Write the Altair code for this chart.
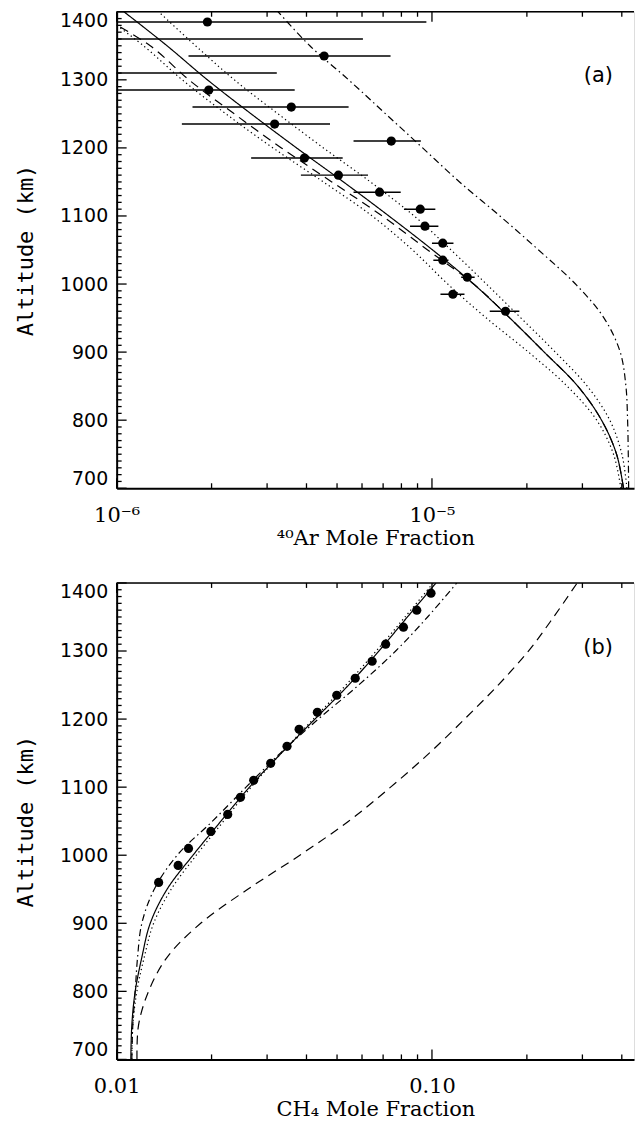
import altair as alt
import pandas as pd
import math

W, H = 519, 478
MAJOR_LEN, MINOR_LEN = 10, 5   # inward tick lengths in pixels

# ---------------- data ----------------
DATA_ALT = [1385, 1360, 1335, 1310, 1285, 1260, 1235, 1210, 1185, 1160,
            1135, 1110, 1085, 1060, 1035, 1010, 985, 960]

AR_VAL = [1.94e-6, None, 4.55e-6, None, 1.96e-6, 3.58e-6, 3.17e-6, 7.43e-6, 3.94e-6, 5.05e-6,
          6.82e-6, 9.18e-6, 9.50e-6, 1.082e-5, 1.082e-5, 1.294e-5, 1.165e-5, 1.711e-5]
AR_LO = [1e-7, 1e-7, 1.69e-6, 1e-7, 1e-7, 1.74e-6, 1.61e-6, 5.64e-6, 2.67e-6, 3.84e-6,
         5.64e-6, 8.15e-6, 8.52e-6, 1.0e-5, 1.01e-5, 1.238e-5, 1.064e-5, 1.525e-5]
AR_HI = [9.6e-6, 6.04e-6, 7.39e-6, 3.22e-6, 3.67e-6, 5.44e-6, 4.75e-6, 9.22e-6, 5.21e-6, 6.27e-6,
         7.96e-6, 1.025e-5, 1.048e-5, 1.17e-5, 1.128e-5, 1.366e-5, 1.268e-5, 1.893e-5]

CH4_VAL = [0.0993, 0.0895, 0.0812, 0.0713, 0.0646, 0.0571, 0.0499, 0.0433, 0.0379, 0.0347,
           0.0308, 0.0272, 0.0247, 0.0225, 0.0199, 0.0169, 0.01567, 0.01359]

CURVE_ALT = [700, 750, 800, 850, 900, 950, 1000, 1050, 1100, 1150, 1200, 1250, 1300, 1350, 1400]

AR_SOLID = [4.05e-5, 3.85e-5, 3.45e-5, 2.90e-5, 2.27e-5, 1.767e-5, 1.356e-5, 1.005e-5, 7.30e-6,
            5.24e-6, 3.72e-6, 2.67e-6, 1.94e-6, 1.445e-6, 1.055e-6]
AR_DASHED = [4.05e-5, 3.85e-5, 3.45e-5, 2.90e-5, 2.27e-5, 1.767e-5, 1.356e-5, 9.69e-6, 6.955e-6,
             4.812e-6, 3.330e-6, 2.361e-6, 1.695e-6, 1.278e-6, 8.42e-7]
AR_DOT_HI = [4.153e-5, 4.003e-5, 3.664e-5, 3.108e-5, 2.462e-5, 1.916e-5, 1.488e-5, 1.150e-5, 8.78e-6,
             6.38e-6, 4.525e-6, 3.25e-6, 2.361e-6, 1.780e-6, 1.359e-6]
AR_DOT_LO = [3.973e-5, 3.765e-5, 3.330e-5, 2.683e-5, 2.023e-5, 1.488e-5, 1.122e-5, 8.68e-6, 6.46e-6,
             4.525e-6, 3.131e-6, 2.221e-6, 1.614e-6, 1.217e-6, 8.74e-7]
AR_DASHDOT = [4.205e-5, 4.194e-5, 4.173e-5, 4.122e-5, 3.954e-5, 3.514e-5, 2.852e-5, 2.178e-5, 1.642e-5,
              1.223e-5, 9.34e-6, 7.13e-6, 5.44e-6, 4.10e-6, 3.25e-6]

CH4_SOLID = [0.01109, 0.01117, 0.01145, 0.01202, 0.01278, 0.01445, 0.01746, 0.02141, 0.02637,
             0.03330, 0.04256, 0.05440, 0.06785, 0.08359, 0.1030]
CH4_DOTTED = [0.01117, 0.01125, 0.01159, 0.01223, 0.01310, 0.01489, 0.01789, 0.02183, 0.02670,
              0.03330, 0.04204, 0.05334, 0.06653, 0.08217, 0.1010]
CH4_DASHDOT = [0.01117, 0.01125, 0.01145, 0.01165, 0.01202, 0.01316, 0.01556, 0.02013, 0.02573,
               0.03305, 0.04362, 0.05855, 0.07671, 0.09686, 0.1199]
CH4_DASHED = [0.0116, 0.01173, 0.01262, 0.01445, 0.01847, 0.02605, 0.03811, 0.05440, 0.07393,
              0.09806, 0.1269, 0.1622, 0.2023, 0.2432, 0.2888]

AR_DOMAIN = [1e-6, 4.373e-5]
CH4_DOMAIN = [0.01, 0.4373]
Y_DOMAIN = [700, 1400]

AR_MAJOR = [1e-6, 1e-5]
AR_MINOR = [2e-6, 3e-6, 4e-6, 5e-6, 6e-6, 7e-6, 8e-6, 9e-6, 2e-5, 3e-5, 4e-5]
CH4_MAJOR = [0.01, 0.1]
CH4_MINOR = [0.02, 0.03, 0.04, 0.05, 0.06, 0.07, 0.08, 0.09, 0.2, 0.3, 0.4]
Y_MAJOR = [700, 800, 900, 1000, 1100, 1200, 1300, 1400]
Y_MINOR = [v for v in range(700, 1401, 10) if v % 100 != 0]

STYLES = ["solid", "dashed", "dotted_hi", "dotted_lo", "dashdot"]
DASHES = [[1, 0], [9, 6], [1.3, 3], [1.3, 3], [7, 3.5, 1.5, 3.5]]


def curves_df(curves):
    rows = []
    for style, vals in curves:
        for a, v in zip(CURVE_ALT, vals):
            rows.append({"alt": a, "val": v, "style": style})
    return pd.DataFrame(rows)


def panel(lines, pts, bars, xdomain, xmajor, xminor, label_expr, xtitle, tag, tag_x):
    xs = alt.Scale(type="log", domain=xdomain, nice=False)
    ys = alt.Scale(domain=Y_DOMAIN, nice=False, zero=False)

    x_axis = alt.Axis(orient="bottom", values=xmajor, labelExpr=label_expr, title=xtitle,
                      ticks=False, tickSize=0, domain=True, domainColor="black", domainWidth=2,
                      grid=False, labelFont="DejaVu Serif", labelFontSize=21, labelColor="black",
                      labelPadding=16, labelFlush=False, labelOverlap=False,
                      titleFont="DejaVu Serif", titleFontSize=21,
                      titleFontWeight="normal", titleColor="black", titlePadding=2)
    y_axis = alt.Axis(orient="left", values=Y_MAJOR, format="d", title="Altitude (km)",
                      ticks=False, tickSize=0, domain=True, domainColor="black", domainWidth=2,
                      grid=False, labelFont="DejaVu Sans", labelFontSize=19, labelColor="black",
                      labelPadding=9, labelFlush=True, labelOverlap=False,
                      titleFont="DejaVu Sans Mono", titleFontSize=22,
                      titleFontWeight="normal", titleColor="black", titlePadding=22)

    def X(field):
        return alt.X(field, scale=xs, axis=x_axis)

    def Y(field):
        return alt.Y(field, scale=ys, axis=y_axis)

    layers = [
        alt.Chart(lines).mark_line(
            clip=True, interpolate="catmull-rom", color="black", strokeWidth=1.2
        ).encode(
            x=X("val:Q"), y=Y("alt:Q"),
            strokeDash=alt.StrokeDash("style:N", scale=alt.Scale(domain=STYLES, range=DASHES),
                                      legend=None),
            order=alt.Order("alt:Q"),
        )
    ]

    if bars is not None:
        layers.append(
            alt.Chart(bars).mark_rule(clip=True, color="black", strokeWidth=1.5).encode(
                x=X("lo:Q"), x2="hi:Q", y=Y("alt:Q"),
            )
        )

    layers.append(
        alt.Chart(pts).mark_circle(size=85, color="black", opacity=1, clip=True).encode(
            x=X("val:Q"), y=Y("alt:Q"),
        )
    )

    tag_df = pd.DataFrame({"val": [tag_x], "alt": [1305], "label": [tag]})
    layers.append(
        alt.Chart(tag_df).mark_text(font="DejaVu Sans", fontSize=21, color="black").encode(
            x=X("val:Q"), y=Y("alt:Q"), text="label:N",
        )
    )

    # top frame line
    frame_df = pd.DataFrame({"lo": [xdomain[0]], "hi": [xdomain[1]], "alt": [Y_DOMAIN[1]]})
    layers.append(
        alt.Chart(frame_df).mark_rule(color="black", strokeWidth=1.5).encode(
            x=X("lo:Q"), x2="hi:Q", y=Y("alt:Q"),
        )
    )

    # inward tick marks: tick length converted from pixels into data units
    km_per_px = (Y_DOMAIN[1] - Y_DOMAIN[0]) / H
    dec_per_px = (math.log10(xdomain[1]) - math.log10(xdomain[0])) / W
    rows = []
    for ticks, ln in [(xmajor, MAJOR_LEN), (xminor, MINOR_LEN)]:
        for v in ticks:
            rows.append({"x1": v, "x2": v, "y1": Y_DOMAIN[0], "y2": Y_DOMAIN[0] + ln * km_per_px})
            rows.append({"x1": v, "x2": v, "y1": Y_DOMAIN[1], "y2": Y_DOMAIN[1] - ln * km_per_px})
    for ticks, ln in [(Y_MAJOR, MAJOR_LEN), (Y_MINOR, MINOR_LEN)]:
        for a in ticks:
            rows.append({"x1": xdomain[0], "x2": xdomain[0] * 10 ** (ln * dec_per_px),
                         "y1": a, "y2": a})
    tick_df = pd.DataFrame(rows)
    layers.append(
        alt.Chart(tick_df).mark_rule(color="black", strokeWidth=1.3).encode(
            x=X("x1:Q"), x2="x2:Q", y=Y("y1:Q"), y2="y2:Q",
        )
    )

    return alt.layer(*layers).properties(width=W, height=H)


ar_lines = curves_df([("solid", AR_SOLID), ("dashed", AR_DASHED), ("dotted_hi", AR_DOT_HI),
                      ("dotted_lo", AR_DOT_LO), ("dashdot", AR_DASHDOT)])
ch4_lines = curves_df([("solid", CH4_SOLID), ("dashed", CH4_DASHED), ("dotted_hi", CH4_DOTTED),
                       ("dashdot", CH4_DASHDOT)])

ar_bars = pd.DataFrame({"alt": DATA_ALT, "lo": AR_LO, "hi": AR_HI})
ar_pts = pd.DataFrame({"alt": DATA_ALT, "val": AR_VAL}).dropna()
ch4_pts = pd.DataFrame({"alt": DATA_ALT, "val": CH4_VAL})

panel_a = panel(ar_lines, ar_pts, ar_bars, AR_DOMAIN, AR_MAJOR, AR_MINOR,
                "datum.value < 5e-6 ? '10\u207b\u2076' : '10\u207b\u2075'",
                "\u2074\u2070Ar Mole Fraction", "(a)", 3.37e-5)
panel_b = panel(ch4_lines, ch4_pts, None, CH4_DOMAIN, CH4_MAJOR, CH4_MINOR,
                "datum.value < 0.05 ? '0.01' : '0.10'",
                "CH\u2084 Mole Fraction", "(b)", 0.3365)

chart = alt.vconcat(panel_a, panel_b, spacing=32).properties(
    padding={"left": 6, "top": 0, "right": 0, "bottom": 0}
).configure_view(strokeWidth=0, strokeOpacity=0).configure(background="white")

chart.save("out.html", embed_options={"renderer": "svg", "actions": False})
